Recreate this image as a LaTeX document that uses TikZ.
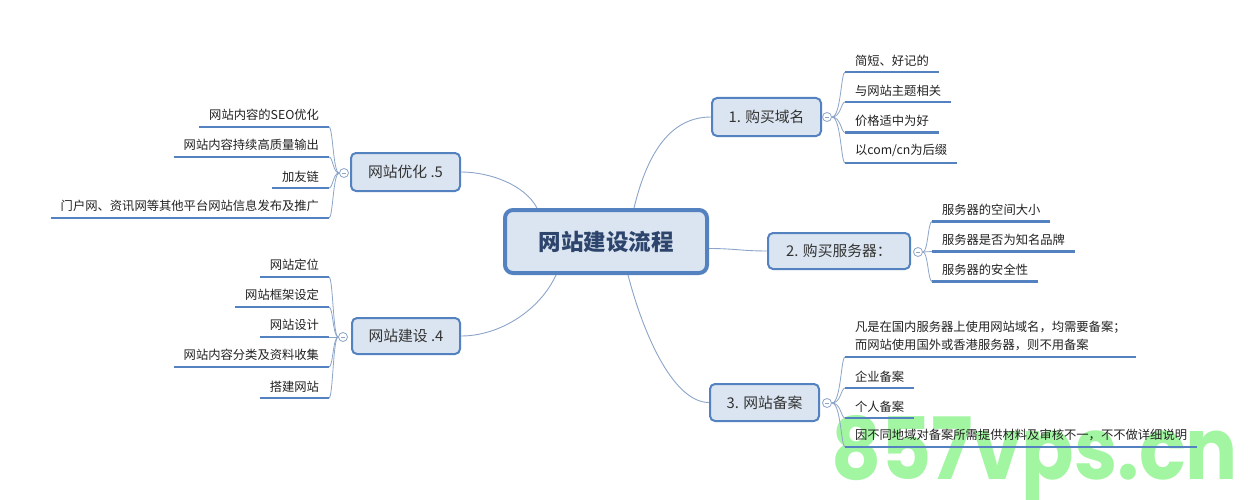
\documentclass[tikz,border=0pt]{standalone}
\usepackage{fontspec}
\setmainfont{Noto Sans CJK SC}
\newfontfamily\wmfont{Poppins}
\usetikzlibrary{calc,backgrounds}
\definecolor{boxblue}{RGB}{84,130,192}
\definecolor{boxfill}{RGB}{219,229,241}
\definecolor{navy}{RGB}{45,68,108}
\definecolor{boxtext}{RGB}{51,51,51}
\definecolor{leaftext}{RGB}{34,34,34}
\definecolor{linegray}{RGB}{140,165,200}
\definecolor{wmgreen}{RGB}{162,246,162}
\tikzset{
  central/.style={draw=boxblue, line width=4pt, fill=boxfill, rounded corners=8pt,
    minimum width=202pt, minimum height=63pt, inner sep=0pt,
    font=\fontsize{22.5}{24}\selectfont\bfseries, text=navy},
  branch/.style={draw=boxblue, line width=2pt, fill=boxfill, rounded corners=5pt,
    minimum width=109pt, minimum height=38pt, inner sep=0pt,
    font=\fontsize{14.8}{16}\selectfont, text=boxtext},
  toggle/.style={circle, draw=linegray, line width=0.8pt, fill=white, minimum size=9pt, inner sep=0pt,
    path picture={\draw[linegray, line width=0.7pt]
      ([xshift=-2.2pt]path picture bounding box.center) -- ([xshift=2.2pt]path picture bounding box.center);}},
  leaf/.style={inner xsep=10pt, inner ysep=6pt, outer sep=0pt,
    font=\fontsize{12.3}{18}\selectfont, text=leaftext, align=left},
  uline/.style={draw=boxblue, line width=2.6pt},
  link/.style={draw=linegray, line width=0.9pt},
  brace/.style={draw=linegray, line width=0.8pt},
  watermark/.style={anchor=base west, inner sep=0pt, text=wmgreen, transform shape, xscale=0.9,
    font=\wmfont\fontsize{86}{86}\selectfont\bfseries},
}
\begin{document}
\begin{tikzpicture}[x=1pt, y=-1pt]
\useasboundingbox (0,0) rectangle (1252,500);

% central and branch nodes
\node[central] (c) at (606,241.5) {网站建设流程};
\node[branch] (b1) at (766.5,117) {1. 购买域名};
\node[branch, minimum width=142pt, minimum height=36pt] (b2) at (839,251) {2. 购买服务器：};
\node[branch, minimum height=37pt] (b3) at (764.5,402.5) {3. 网站备案};
\node[branch] (b5) at (405.5,172) {网站优化 .5};
\node[branch, minimum width=108pt, minimum height=36pt] (b4) at (406,336) {网站建设 .4};

% background: white page, watermark, connectors from centre
\begin{scope}[on background layer]
  \fill[white] (0,0) rectangle (1252,500);
  \node[watermark] (wm) at (831,479) {857vps.cn};
  \draw[link] ($(c.north)+(28,0)$) .. controls (648,150) and (672,117) .. (b1.west);
  \draw[link] ($(c.east)+(0,7)$) .. controls +(25,0) and +(-25,0) .. (b2.west);
  \draw[link] ($(c.south)+(22,0)$) .. controls (645,340) and (675,402.5) .. (b3.west);
  \draw[link] ($(c.north)+(-69,0)$) .. controls (525,185) and (490,172) .. (b5.east);
  \draw[link] ($(c.south)+(-50,0)$) .. controls (540,310) and (500,336) .. (b4.east);
\end{scope}

% toggles
\node[toggle] (t1) at (827,117) {};
\node[toggle] (t2) at (918,252) {};
\node[toggle] (t3) at (827,403) {};
\node[toggle] (t5) at (344,173) {};
\node[toggle] (t4) at (343,337) {};

% leaves: branch 1
\node[leaf, anchor=south west] (a1) at (845,72) {简短、好记的};
\node[leaf, anchor=south west] (a2) at (845,102) {与网站主题相关};
\node[leaf, anchor=south west] (a3) at (845,132.5) {价格适中为好};
\node[leaf, anchor=south west] (a4) at (845,163) {以com/cn为后缀};
% leaves: branch 2
\node[leaf, anchor=south west] (s1) at (932,221.5) {服务器的空间大小};
\node[leaf, anchor=south west] (s2) at (932,251.5) {服务器是否为知名品牌};
\node[leaf, anchor=south west] (s3) at (932,281.5) {服务器的安全性};
% leaves: branch 3
\node[leaf, anchor=south west] (r1) at (845,357) {凡是在国内服务器上使用网站域名，均需要备案；\\而网站使用国外或香港服务器，则不用备案};
\node[leaf, anchor=south west] (r2) at (845,388) {企业备案};
\node[leaf, anchor=south west] (r3) at (845,418) {个人备案};
\node[leaf, anchor=south west] (r4) at (845,447) {因不同地域对备案所需提供材料及审核不一，不不做详细说明};
% leaves: branch 5
\node[leaf, anchor=south east] (e1) at (329,127) {网站内容的SEO优化};
\node[leaf, anchor=south east] (e2) at (329,157) {网站内容持续高质量输出};
\node[leaf, anchor=south east] (e3) at (329,188) {加友链};
\node[leaf, anchor=south east] (e4) at (329,218) {门户网、资讯网等其他平台网站信息发布及推广};
% leaves: branch 4
\node[leaf, anchor=south east] (d1) at (329,277) {网站定位};
\node[leaf, anchor=south east] (d2) at (329,307) {网站框架设定};
\node[leaf, anchor=south east] (d3) at (329,337) {网站设计};
\node[leaf, anchor=south east] (d4) at (329,367) {网站内容分类及资料收集};
\node[leaf, anchor=south east] (d5) at (329,398) {搭建网站};

% brackets (right side)
\foreach \t/\l in {t1/a1,t1/a2,t1/a3,t1/a4,t2/s1,t2/s2,t2/s3,t3/r1,t3/r2,t3/r3,t3/r4}
  \draw[brace] (\t.east) .. controls ($(\t.east -| \l.south west)+(-4,0)$) and ($(\l.south west)+(-4,0)$) .. (\l.south west);
% brackets (left side)
\foreach \t/\l in {t5/e1,t5/e2,t5/e3,t5/e4,t4/d1,t4/d2,t4/d3,t4/d4,t4/d5}
  \draw[brace] (\t.west) .. controls ($(\t.west -| \l.south east)+(4,0)$) and ($(\l.south east)+(4,0)$) .. (\l.south east);

% underlines
\foreach \l in {a1,a2,a3,a4,s1,s2,s3,r1,r2,r3,r4,e1,e2,e3,e4,d1,d2,d3,d4,d5}
  \draw[uline] (\l.south west) -- (\l.south east);
\end{tikzpicture}
\end{document}
